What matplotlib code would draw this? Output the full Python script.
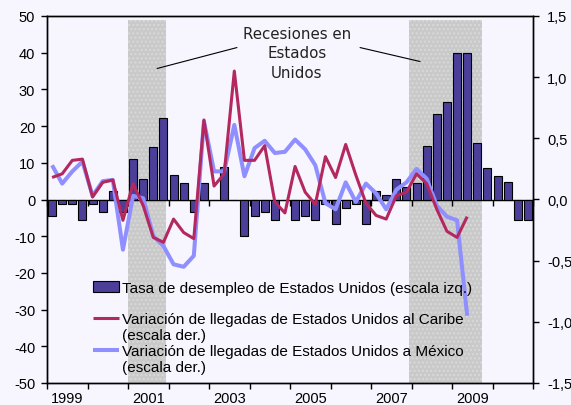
#!/usr/bin/python3

import numpy as np
import pandas as pd
import matplotlib
matplotlib.use("Agg")
import matplotlib.pyplot as plt
from matplotlib.ticker import FixedLocator, FuncFormatter

#_____________________________________________________________________________
# data (quarterly, 1999Q1 - 2010Q4)

trimestres = pd.period_range("1999Q1", "2010Q4", freq="Q")

# tasa de desempleo de EE.UU. (escala izq.)
desempleo = [
    -4.5, -1.2, -1.2, -5.6,    # 1999
    -1.2, -3.4, 2.2, -3.4,     # 2000
    11.1, 5.5, 14.3, 22.2,     # 2001
    6.6, 4.4, -3.4, 4.4,       # 2002
    0.0, 8.9, 0.0, -10.0,      # 2003
    -4.5, -3.4, -5.5, 0.0,     # 2004
    -5.5, -4.5, -5.5, -1.1,    # 2005
    -6.7, -2.3, -1.1, -6.7,    # 2006
    2.3, 1.2, 5.5, 3.3,        # 2007
    4.5, 14.5, 23.4, 26.7,     # 2008
    40.0, 40.0, 15.3, 8.5,     # 2009
    6.5, 4.8, -5.5, -5.5,      # 2010
]

# llegadas al Caribe (escala der.), 1999Q1 - 2009Q2
caribe = [
    0.18, 0.21, 0.32, 0.33,
    0.02, 0.14, 0.16, -0.17,
    0.13, -0.05, -0.31, -0.35,
    -0.16, -0.27, -0.32, 0.65,
    0.11, 0.21, 1.05, 0.32,
    0.32, 0.44, -0.02, -0.11,
    0.27, 0.06, -0.04, 0.35,
    0.18, 0.45, 0.20, -0.03,
    -0.13, -0.16, 0.03, 0.06,
    0.21, 0.13, -0.08, -0.26,
    -0.31, -0.14,
]

# llegadas a Mexico (escala der.), 1999Q1 - 2009Q2
mexico = [
    0.28, 0.13, 0.23, 0.31,
    0.03, 0.15, 0.16, -0.41,
    0.03, 0.01, -0.30, -0.38,
    -0.53, -0.55, -0.46, 0.64,
    0.23, 0.23, 0.61, 0.19,
    0.42, 0.48, 0.38, 0.39,
    0.49, 0.41, 0.28, -0.03,
    -0.08, 0.14, -0.02, 0.13,
    0.05, -0.08, 0.08, 0.14,
    0.25, 0.17, -0.05, -0.14,
    -0.17, -0.95,
]

recesiones = [(2001.0, 2001.95), (2007.95, 2009.75)]

anios = list(range(1999, 2012))
anios_label = [1999, 2001, 2003, 2005, 2007, 2009]

izq_ticks = [-50, -40, -30, -20, -10, 0, 10, 20, 30, 40, 50]
der_ticks = [-1.5, -1.0, -0.5, 0.0, 0.5, 1.0, 1.5]

lab_bar = "Tasa de desempleo de Estados Unidos (escala izq.)"
lab_car = "Variación de llegadas de Estados Unidos al Caribe\n(escala der.)"
lab_mex = "Variación de llegadas de Estados Unidos a México\n(escala der.)"

#_____________________________________________________________________________
def main():

    bg = "#f7f5fd"
    col_bar = "#4b3f99"
    col_car = "#b3295f"
    col_mex = "#8f8fff"

    plt.rcParams["font.family"] = ["Liberation Sans", "DejaVu Sans"]

    xq = np.array([p.year + (p.quarter - 0.5) / 4. for p in trimestres])

    fig = plt.figure(figsize=(5.71, 4.06), dpi=100, facecolor=bg)
    ax = fig.add_axes([47/571., 22/406., 486/571., 367/406.])
    ax.set_facecolor(bg)
    ax2 = ax.twinx()

    # recession shading
    for r in recesiones:
        ax.axvspan(r[0], r[1], ymin=0, ymax=0.99, facecolor="#c9c9c9",
                   edgecolor="#d9d9d9", hatch="....", lw=0, zorder=0)

    bars = ax.bar(xq, desempleo, width=0.195, color=col_bar,
                  edgecolor="black", lw=0.8, zorder=2)

    n = len(caribe)
    l_mex, = ax2.plot(xq[:n], mexico, color=col_mex, lw=2.9,
                      solid_joinstyle="round", solid_capstyle="butt")
    l_car, = ax2.plot(xq[:n], caribe, color=col_car, lw=2.2,
                      solid_joinstyle="round", solid_capstyle="butt")

    ax.set_xlim(1999, 2011)
    ax.set_ylim(-50, 50)
    ax2.set_ylim(-1.5, 1.5)

    # x axis: year boundaries as ticks, labels centred in the year
    ax.xaxis.set_major_locator(FixedLocator(anios))
    ax.xaxis.set_major_formatter(FuncFormatter(lambda v, p: ""))
    ax.xaxis.set_minor_locator(FixedLocator([a + 0.5 for a in anios_label]))
    ax.xaxis.set_minor_formatter(FuncFormatter(lambda v, p: "%d" % int(v)))
    ax.tick_params(axis="x", which="major", direction="out", length=4, width=1)
    ax.tick_params(axis="x", which="minor", length=0, pad=5.5, labelsize=10.5)

    ax.set_yticks(izq_ticks)
    ax.set_yticklabels(["%d" % t for t in izq_ticks])
    ax.tick_params(axis="y", direction="out", length=4, width=1, pad=4.5, labelsize=10.5)

    ax2.set_yticks(der_ticks)
    ax2.set_yticklabels([("%.1f" % t).replace(".", ",") for t in der_ticks])
    ax2.tick_params(axis="y", direction="out", length=4, width=1, pad=6, labelsize=10.5)

    for a in (ax, ax2):
        for s in a.spines.values():
            s.set_color("black")
            s.set_linewidth(1)

    # zero line with its own small year ticks
    sec = ax.secondary_xaxis(0.5)
    sec.set_alignment("bottom")
    sec.set_xticks(anios)
    sec.set_xticklabels([])
    sec.tick_params(direction="out", length=4, width=1)
    sec.spines["bottom"].set_linewidth(1)

    # annotation
    ax.text(2005.17, 40.0, "Recesiones en\nEstados\nUnidos", ha="center",
            va="center", multialignment="center", fontsize=10.8,
            family="DejaVu Sans", color="#222222", linespacing=1.38, zorder=5)
    ax.annotate("", xy=(2001.72, 35.7), xytext=(2003.69, 41.4),
                arrowprops=dict(arrowstyle="-", color="black", lw=0.8,
                                shrinkA=0, shrinkB=0))
    ax.annotate("", xy=(2008.21, 37.6), xytext=(2006.73, 41.4),
                arrowprops=dict(arrowstyle="-", color="black", lw=0.8,
                                shrinkA=0, shrinkB=0))

    # legends
    leg1 = ax2.legend([bars], [lab_bar], loc="upper left",
                      bbox_to_anchor=(0.0947, 0.279), frameon=False,
                      borderpad=0, borderaxespad=0, handlelength=1.7,
                      handletextpad=0.2, fontsize=11)
    ax2.add_artist(leg1)
    leg2 = ax2.legend([l_car, l_mex], [lab_car, lab_mex], loc="upper left",
                      bbox_to_anchor=(0.0947, 0.194), frameon=False,
                      borderpad=0, borderaxespad=0, handlelength=1.7,
                      handletextpad=0.2, labelspacing=0.12, fontsize=11)
    # put the line handles next to the first text line
    for ln in leg2.get_lines():
        ln.set_ydata(np.asarray(ln.get_ydata()) + 6.6)

    fig.savefig("out.png", dpi=100, facecolor=bg)
    plt.close()

#main

#_____________________________________________________________________________
if __name__ == "__main__":

    main()
